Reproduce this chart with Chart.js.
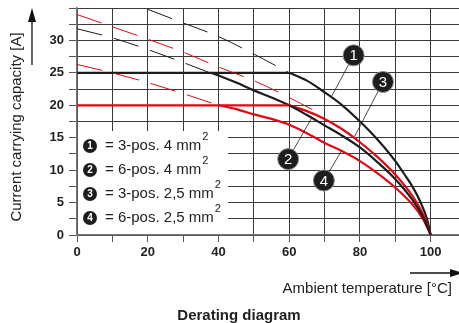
<!DOCTYPE html>
<html>
<head>
<meta charset="utf-8">
<script src="https://cdn.jsdelivr.net/npm/chart.js@4/dist/chart.umd.min.js"></script>
<style>
  html, body { margin: 0; padding: 0; background: #fff; }
  #wrap { width: 459px; height: 323px; }
</style>
</head>
<body>
<div id="wrap"><canvas id="derating" width="459" height="323"></canvas></div>
<script>
// values (temperature in °C, current in A)
var ratedTemp = [0, 60];
var rated4mm = [25, 25];
var rated25mm = [20, 20];

var temp1 = [60, 65, 70, 75, 80, 85, 90, 93, 95, 97, 99, 100];
var amps1 = [25, 23.8, 22.0, 20.0, 17.5, 14.7, 11.4, 9.0, 7.3, 5.2, 2.4, 0];

var temp2 = [38, 40, 45, 50, 55, 60, 65, 70, 75, 80, 85, 90, 95, 98, 100];
var amps2 = [25, 24.6, 23.5, 22.3, 21.2, 20.0, 18.5, 16.9, 15.3, 13.5, 11.2, 8.6, 5.3, 2.6, 0];

var temp3 = [60, 65, 70, 75, 80, 85, 90, 95, 98, 100];
var amps3 = [20, 19.1, 17.9, 16.3, 14.3, 12.0, 9.3, 5.9, 3.0, 0];

var temp4 = [40, 45, 50, 55, 60, 65, 70, 75, 80, 85, 90, 95, 98, 100];
var amps4 = [20, 19.4, 18.6, 17.9, 17.0, 15.7, 14.2, 12.9, 11.4, 9.5, 7.3, 4.6, 2.3, 0];

// thin dashed extensions above the caps
var extTemp1 = [20, 30, 40, 50, 60];
var extAmps1 = [34.8, 32.7, 30.6, 27.9, 25.0];
var extTemp2 = [0, 10, 20, 30, 40];
var extAmps2 = [31.8, 30.4, 28.6, 26.6, 24.5];
var extTemp3 = [0, 10, 20, 30, 40, 50, 60, 68];
var extAmps3 = [34.0, 32.1, 30.2, 28.2, 25.9, 23.8, 21.2, 18.9];
var extTemp4 = [0, 10, 20, 30, 40];
var extAmps4 = [26.3, 25.0, 23.5, 21.8, 20.0];

var xLabels = [0, 20, 40, 60, 80, 100];
var yLabels = [0, 5, 10, 15, 20, 25, 30];

var legendNums = ['1', '2', '3', '4'];
var legendTexts = ['= 3-pos. 4 mm', '= 6-pos. 4 mm', '= 3-pos. 2,5 mm', '= 6-pos. 2,5 mm'];

// numbered markers: circle centre and the point on the curve it points to
var callouts = [
  { n: '1', cx: 78.2, cy: 27.7, tx: 71.9, ty: 21.3 },
  { n: '3', cx: 86.5, cy: 23.6, tx: 78.5, ty: 15.2 },
  { n: '2', cx: 59.7, cy: 11.7, tx: 66.3, ty: 18.0 },
  { n: '4', cx: 69.8, cy: 8.4, tx: 74.8, ty: 13.0 }
];

var BLACK = '#1d1d1b';
var RED = '#e30613';
var FONT = "'Liberation Sans', Arial, sans-serif";

function pts(xs, ys) {
  return xs.map(function (x, i) { return { x: x, y: ys[i] }; });
}

function solid(xs, ys, color, smooth) {
  return {
    data: pts(xs, ys),
    borderColor: color,
    borderWidth: 2.2,
    pointRadius: 0,
    cubicInterpolationMode: smooth ? 'monotone' : 'default',
    tension: 0
  };
}

function dashed(xs, ys, color) {
  return {
    data: pts(xs, ys),
    borderColor: color,
    borderWidth: 1,
    borderDash: [26, 12],
    pointRadius: 0,
    cubicInterpolationMode: 'monotone'
  };
}

var decorations = {
  id: 'decorations',
  beforeDatasetsDraw: function (chart) {
    var ctx = chart.ctx;
    var a = chart.chartArea;
    ctx.save();
    // legend box hides the grid behind it
    ctx.fillStyle = '#fff';
    ctx.fillRect(a.left + 1, 131, 228 - a.left - 1, a.bottom - 132);
    legendTexts.forEach(function (t, i) {
      var cy = 146 + i * 24;
      ctx.fillStyle = BLACK;
      ctx.beginPath();
      ctx.arc(90, cy, 7, 0, Math.PI * 2);
      ctx.fill();
      ctx.fillStyle = '#fff';
      ctx.font = 'bold 10px ' + FONT;
      ctx.textAlign = 'center';
      ctx.textBaseline = 'middle';
      ctx.fillText(legendNums[i], 90, cy + 0.5);
      ctx.fillStyle = '#222';
      ctx.font = '15px ' + FONT;
      ctx.textAlign = 'left';
      ctx.fillText(t, 105, cy);
      var w = ctx.measureText(t).width;
      ctx.font = '11px ' + FONT;
      ctx.fillText('2', 105 + w + 1, cy - 9);
    });
    ctx.restore();
  },
  afterDatasetsDraw: function (chart) {
    var ctx = chart.ctx;
    var xs = chart.scales.x, ys = chart.scales.y;
    ctx.save();
    callouts.forEach(function (c) {
      var cx = xs.getPixelForValue(c.cx), cy = ys.getPixelForValue(c.cy);
      ctx.strokeStyle = BLACK;
      ctx.lineWidth = 0.8;
      ctx.beginPath();
      ctx.moveTo(cx, cy);
      ctx.lineTo(xs.getPixelForValue(c.tx), ys.getPixelForValue(c.ty));
      ctx.stroke();
      ctx.fillStyle = BLACK;
      ctx.strokeStyle = '#888';
      ctx.lineWidth = 1;
      ctx.beginPath();
      ctx.arc(cx, cy, 10.5, 0, Math.PI * 2);
      ctx.fill();
      ctx.stroke();
      ctx.fillStyle = '#fff';
      ctx.font = '15px ' + FONT;
      ctx.textAlign = 'center';
      ctx.textBaseline = 'middle';
      ctx.fillText(c.n, cx, cy + 1);
    });
    ctx.restore();
  },
  afterDraw: function (chart) {
    var ctx = chart.ctx;
    ctx.save();
    ctx.fillStyle = '#222';
    ctx.strokeStyle = '#111';
    // y axis title + arrow
    ctx.save();
    ctx.translate(17, 127);
    ctx.rotate(-Math.PI / 2);
    ctx.font = '15px ' + FONT;
    ctx.textAlign = 'center';
    ctx.textBaseline = 'middle';
    ctx.fillText('Current carrying capacity [A]', 0, 0);
    ctx.restore();
    ctx.lineWidth = 1.3;
    ctx.beginPath();
    ctx.moveTo(32, 65);
    ctx.lineTo(32, 20);
    ctx.stroke();
    ctx.fillStyle = '#111';
    ctx.beginPath();
    ctx.moveTo(32, 8);
    ctx.lineTo(36, 22);
    ctx.lineTo(28, 22);
    ctx.closePath();
    ctx.fill();
    // x axis title + arrow
    ctx.beginPath();
    ctx.moveTo(410, 273);
    ctx.lineTo(450, 273);
    ctx.stroke();
    ctx.beginPath();
    ctx.moveTo(463, 273);
    ctx.lineTo(450, 269);
    ctx.lineTo(450, 277);
    ctx.closePath();
    ctx.fill();
    ctx.fillStyle = '#222';
    ctx.font = '15px ' + FONT;
    ctx.textAlign = 'right';
    ctx.textBaseline = 'middle';
    ctx.fillText('Ambient temperature [°C]', 452, 289);
    // caption
    ctx.font = 'bold 15px ' + FONT;
    ctx.textAlign = 'center';
    ctx.fillText('Derating diagram', 239, 316);
    ctx.restore();
  }
};

var chart = new Chart(document.getElementById('derating').getContext('2d'), {
  type: 'line',
  data: {
    datasets: [
      dashed(extTemp1, extAmps1, BLACK),
      dashed(extTemp2, extAmps2, BLACK),
      dashed(extTemp3, extAmps3, RED),
      dashed(extTemp4, extAmps4, RED),
      solid(ratedTemp, rated4mm, BLACK, false),
      solid(ratedTemp, rated25mm, RED, false),
      solid(temp2, amps2, BLACK, true),
      solid(temp4, amps4, RED, true),
      solid(temp3, amps3, RED, true),
      solid(temp1, amps1, BLACK, true)
    ]
  },
  options: {
    responsive: false,
    animation: false,
    layout: { padding: { top: 8, left: 0, right: 0, bottom: 0 } },
    plugins: {
      legend: { display: false },
      tooltip: { enabled: false }
    },
    scales: {
      x: {
        type: 'linear',
        min: 0,
        max: 108,
        afterFit: function (s) { s.height = 88; s.paddingLeft = 0; s.paddingRight = 0; },
        ticks: {
          stepSize: 10,
          includeBounds: false,
          autoSkip: false,
          maxRotation: 0,
          padding: 3,
          color: '#222',
          font: { family: FONT, size: 13, weight: 'bold' },
          callback: function (v) { return xLabels.indexOf(v) >= 0 ? v : ''; }
        },
        grid: { color: '#3a3a3a', lineWidth: 1, tickLength: 7, tickColor: '#555' },
        border: { color: '#777', width: 1.5 }
      },
      y: {
        min: 0,
        max: 35,
        afterFit: function (s) { s.width = 77; s.paddingTop = 0; s.paddingBottom = 0; },
        ticks: {
          stepSize: 2.5,
          autoSkip: false,
          padding: 5,
          color: '#222',
          font: { family: FONT, size: 13, weight: 'bold' },
          callback: function (v) { return yLabels.indexOf(v) >= 0 ? v : ''; }
        },
        grid: { color: '#3a3a3a', lineWidth: 1, tickLength: 8, tickColor: '#555' },
        border: { color: '#777', width: 1.5 }
      }
    }
  },
  plugins: [decorations]
});
</script>
</body>
</html>
